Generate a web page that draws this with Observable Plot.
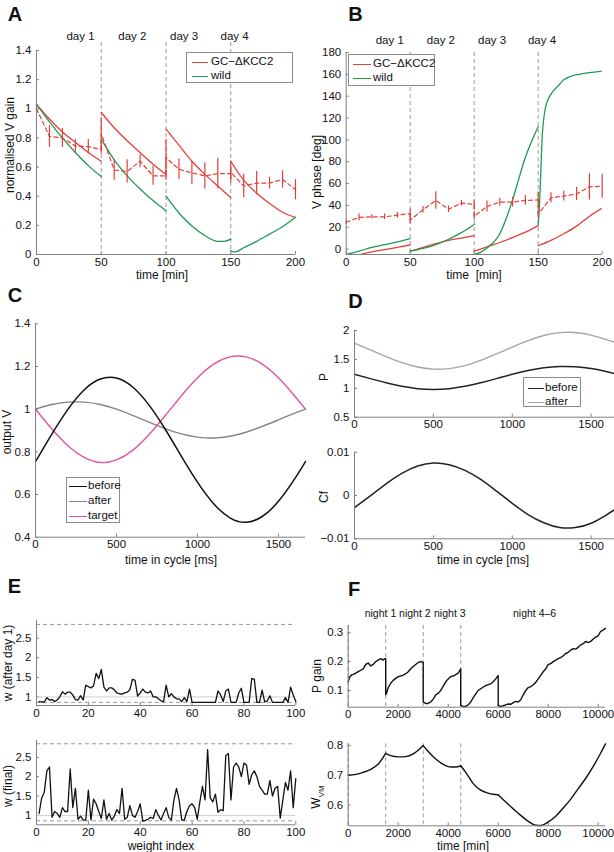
<!DOCTYPE html>
<html>
<head>
<meta charset="utf-8">
<script src="https://cdn.jsdelivr.net/npm/d3@7"></script>
<script src="https://cdn.jsdelivr.net/npm/@observablehq/plot@0.6"></script>
<style>
  html, body { margin: 0; padding: 0; background: #fff; }
  #fig { position: relative; width: 614px; height: 852px; overflow: hidden; background: #fff;
         font-family: "Liberation Sans", Arial, Helvetica, sans-serif; color: #111; }
  #fig svg { position: absolute; overflow: visible; }
  .t { position: absolute; font-size: 12px; white-space: pre; line-height: 1; transform: translate(-50%, -50%); }
  .r { position: absolute; font-size: 12px; white-space: pre; line-height: 1; transform: translate(-50%, -50%) rotate(-90deg); }
  .letter { position: absolute; font-size: 20px; font-weight: bold; line-height: 1; transform: translate(-50%, -50%); }
  .leg { position: absolute; border: 1px solid #8c8c8c; background: #fff; box-sizing: border-box; }
  .leg .sw { position: absolute; height: 0; }
  .leg .lt { position: absolute; font-size: 11.5px; line-height: 1; white-space: pre; transform: translateY(-50%); }
</style>
</head>
<body>
<div id="fig"></div>
<script>
// ---------------- colours / style ----------------
const FONT = '"Liberation Sans", Arial, Helvetica, sans-serif';
const RED = "#e2403a", GREEN = "#1f9a52", PINK = "#e0569e", AX = "#808080", GRID = "#9a9a9a";

// ---------------- Panel A : normalised V gain ----------------
const dayLines = [50, 100, 150];
const dayLabels = ["day 1", "day 2", "day 3", "day 4"];
const dayLabelT = [34, 74, 114, 153];
const timeTicks = [0, 50, 100, 150, 200];
const gainTicks = [0, 0.2, 0.4, 0.6, 0.8, 1, 1.2, 1.4];
const aRedT = [[0,10,20,30,40,50],[50,60,70,80,90,100],[100,110,120,130,140,150],[150,160,170,180,190,200]];
const aRedV = [[1.03,0.93,0.84,0.77,0.70,0.64],[0.975,0.87,0.78,0.70,0.62,0.55],[0.86,0.75,0.64,0.55,0.47,0.39],[0.64,0.51,0.42,0.35,0.29,0.255]];
const aGreenT = [[0,10,20,30,40,50],[50,60,70,80,90,100],[100,110,120,130,140,145,150],[150,152,155,160,170,180,190,200]];
const aGreenV = [[1.03,0.91,0.80,0.70,0.61,0.535],[0.79,0.65,0.54,0.45,0.37,0.30],[0.40,0.285,0.195,0.13,0.09,0.09,0.105],[0.027,0.018,0.022,0.046,0.09,0.14,0.19,0.255]];
const expT = [0,10,20,30,40,50,50,60,70,80,90,100,100,110,120,130,140,150,150,160,170,180,190,200];
const aExpM = [1.0,0.81,0.80,0.745,0.74,0.72,0.83,0.58,0.57,0.64,0.54,0.54,0.665,0.585,0.56,0.54,0.555,0.555,0.565,0.47,0.49,0.49,0.515,0.445];
const aExpE = [0.03,0.075,0.065,0.045,0.05,0.03,0.11,0.07,0.08,0.045,0.065,0.03,0.125,0.07,0.08,0.09,0.105,0.04,0.075,0.08,0.08,0.04,0.06,0.07];

// ---------------- Panel B : V phase ----------------
const phaseTicks = [0, 20, 40, 60, 80, 100, 120, 140, 160, 180];
const bRedT = [[0,10,20,30,40,50],[50,60,70,80,90,100],[100,110,120,130,140,150],[150,160,170,180,190,200]];
const bRedV = [[-12,-5.5,-2.5,-0.5,1.5,3.7],[-2,1.5,5,8,10,12.2],[-2,2,6,10.5,15.5,21.5],[3,8,14,21,30,37.5]];
const bGreenT = [[0,10,20,30,40,50],[50,60,70,80,90,100],[100,105,110,115,120,125,130,135,140,145,150],[150,151,152,153,155,157,159,162,166,170,175,182,190,200]];
const bGreenV = [[-5,-2,1.5,4,6.5,9.5],[-2,0.5,4,9,15,22.5],[-5,-3,1,6,14,28,45,65,84,99,112],[22,40,70,100,125,135,140,145,150,155,158,160,161.5,163]];
const bExpM = [24.5,29,29.5,29.5,31,32.5,26.5,36,44.5,36.5,42,41,30,39,43,43,44.5,45,32,47,48.5,50.5,57,57.5];
const bExpE = [2,3,2,2.5,2.5,4,3.5,3,8,3,2.5,4,3.5,5,3.5,4.5,4.5,7,3.5,4.5,4.5,6,12,11];

// ---------------- Panel C / D : one cycle ----------------
const cycleT = [0,100,200,300,400,500,600,700,800,900,1000,1100,1200,1300,1400,1500,1600,1667];
const cycleTicks = [0, 500, 1000, 1500];
const outTicks = [0.4, 0.6, 0.8, 1, 1.2, 1.4];
const outBefore = [0.754,0.882,0.999,1.090,1.141,1.146,1.104,1.020,0.907,0.780,0.658,0.557,0.491,0.470,0.497,0.568,0.673,0.754];
const outAfter  = [1.000,1.022,1.033,1.033,1.022,1.000,0.971,0.939,0.909,0.884,0.869,0.865,0.873,0.892,0.919,0.950,0.981,1.000];
const outTarget = [1.000,0.908,0.829,0.774,0.750,0.762,0.807,0.880,0.969,1.062,1.147,1.211,1.245,1.245,1.211,1.147,1.062,1.000];
const pTicks = [0.5, 1, 1.5, 2];
const pBefore = [1.242,1.167,1.095,1.034,0.994,0.980,0.994,1.034,1.095,1.167,1.242,1.307,1.355,1.378,1.373,1.342,1.287,1.242];
const pAfter  = [1.783,1.666,1.547,1.443,1.368,1.332,1.341,1.393,1.482,1.594,1.714,1.825,1.913,1.963,1.966,1.921,1.837,1.783];
const cfTicks = [-0.01, 0, 0.01];
const cfValues = [-0.0028,-0.0001,0.0027,0.0051,0.0068,0.0075,0.0071,0.0058,0.0037,0.0010,-0.0018,-0.0044,-0.0063,-0.0074,-0.0074,-0.0064,-0.0044,-0.0028];

// ---------------- Panel E : weights ----------------
const weightTicks = [0, 20, 40, 60, 80, 100];
const wTicks = [1, 1.5, 2, 2.5];
const wBounds = [0.86, 2.85];
const wRef = [1];
const wAfterDay1 = [0.88,0.87,0.87,0.98,0.92,0.93,0.88,0.92,1.0,1.13,
  1.07,1.12,1.12,1.05,0.93,0.92,1.03,0.92,1.3,1.26,
  1.23,1.28,1.6,1.47,1.7,1.25,1.15,1.23,1.23,1.18,
  1.1,1.08,1.07,1.1,1.12,1.18,1.45,1.42,1.02,1.1,
  1.2,1.12,1.1,1.15,1.0,1.0,0.95,0.9,0.88,1.3,
  1.0,1.08,1.0,0.95,0.95,0.88,0.98,0.88,1.2,0.86,
  0.86,0.86,0.86,0.86,0.86,0.86,0.86,0.86,0.86,1.15,
  1.05,0.88,1.15,1.2,0.86,0.86,0.86,1.1,1.22,0.86,
  0.86,0.86,1.47,1.45,0.86,0.86,1.17,0.87,0.9,1.03,
  0.86,0.86,0.86,0.86,0.86,0.98,0.86,1.25,1.05,0.88];
const wFinal = [1.05,1.45,1.6,2.15,2.25,0.95,1.1,1.05,0.95,1.2,
  1.1,1.1,2.2,1.2,1.7,0.9,0.98,0.88,0.88,1.65,
  0.88,1.42,1.3,1.1,0.92,1.4,0.9,1.05,0.88,0.98,
  1.15,1.05,1.7,0.9,0.95,1.25,1.0,0.95,1.1,1.3,
  0.85,0.87,0.9,0.95,0.92,1.15,1.0,0.88,1.05,1.2,
  0.95,0.88,1.4,1.7,1.4,0.88,0.88,1.1,1.25,1.3,
  1.2,0.9,1.35,1.75,1.4,2.7,1.45,1.35,1.55,1.08,
  1.15,1.12,2.55,2.6,1.4,2.25,2.35,2.25,2.0,2.35,
  2.3,1.8,2.05,2.15,2.0,1.75,1.65,1.55,1.55,1.9,
  1.5,1.7,1.75,0.93,1.4,1.85,1.65,2.15,1.2,1.95];

// ---------------- Panel F : long-term ----------------
const nightLines = [0, 1500, 3000, 4500];
const nightLabels = ["night 1", "night 2", "night 3", "night 4–6"];
const nightLabelT = [1290, 2666, 4063, 7455];
const longTicks = [0, 2000, 4000, 6000, 8000, 10000];
const pGainTicks = [0.1, 0.2, 0.3];
const pGainT = [0,50,100,150,200,300,400,500,600,700,800,900,1000,1100,1200,1300,1400,1450,1500,
  1500,1550,1600,1700,1800,1900,2000,2100,2200,2300,2400,2500,2600,2700,2800,2900,3000,
  3000,3100,3200,3300,3400,3500,3600,3700,3800,3900,4000,4100,4200,4300,4400,4500,
  4500,4600,4700,4800,4900,5000,5100,5200,5300,5400,5500,5600,5700,5800,5900,6000,
  6000,6100,6200,6300,6400,6500,6600,6700,6800,6900,7000,7100,7200,7300,7400,7500,7600,7700,7800,7900,
  8000,8100,8200,8300,8400,8500,8600,8700,8800,8900,9000,9100,9200,9300,9400,9500,9600,9700,9800,9900,
  10000,10100,10200,10290];
const pGainV = [0.13,0.145,0.15,0.155,0.155,0.16,0.165,0.17,0.175,0.19,0.195,0.185,0.19,0.2,0.205,0.21,0.205,0.21,0.21,
  0.085,0.095,0.11,0.125,0.135,0.142,0.148,0.15,0.153,0.158,0.165,0.175,0.183,0.19,0.197,0.2,0.197,
  0.06,0.055,0.055,0.06,0.07,0.085,0.09,0.1,0.115,0.13,0.14,0.148,0.15,0.155,0.16,0.175,
  0.048,0.045,0.045,0.05,0.06,0.075,0.088,0.1,0.106,0.112,0.117,0.12,0.123,0.13,0.14,0.152,
  0.048,0.044,0.047,0.05,0.053,0.052,0.058,0.062,0.06,0.068,0.085,0.1,0.11,0.113,0.12,0.128,0.14,0.152,0.165,0.175,
  0.19,0.193,0.2,0.205,0.21,0.214,0.22,0.228,0.232,0.24,0.245,0.243,0.25,0.258,0.262,0.27,0.266,0.27,0.278,0.285,
  0.29,0.305,0.31,0.315];
const wvmTicks = [0.6, 0.7, 0.8];
const wvmT = [[0,300,600,900,1200,1500],[1500,1700,2000,2300,2600,2800,3000],[3000,3200,3500,3800,4100,4300,4500],
  [4500,4700,5000,5300,5600,5800,6000],[6000,6300,6600,6900,7200,7500,7700,8000,8300,8600,8900,9200,9500,9800,10100,10290]];
const wvmV = [[0.70,0.703,0.71,0.72,0.738,0.774],[0.774,0.766,0.762,0.763,0.772,0.784,0.80],[0.80,0.78,0.755,0.737,0.728,0.728,0.732],
  [0.732,0.71,0.672,0.65,0.64,0.636,0.634],[0.634,0.61,0.587,0.565,0.545,0.532,0.531,0.543,0.562,0.59,0.62,0.655,0.69,0.73,0.775,0.806]];

// ---------------- helpers ----------------
const fig = document.getElementById("fig");
const fmt = d => (d < 0 ? "−" : "") + String(Math.abs(d));
const segs = (T, V) => T.flatMap((ts, s) => ts.map((t, i) => ({t, v: V[s][i], s})));
const pts = (T, M, E) => T.map((t, i) => ({t, m: M[i], lo: M[i] - E[i], hi: M[i] + E[i]}));
const series = (T, V) => T.map((t, i) => ({t, v: V[i]}));

function panel(o) {
  const pw = o.width - o.ml - o.mr, ph = o.height - o.mt - o.mb;
  const svg = Plot.plot({
    width: o.width, height: o.height,
    marginTop: o.mt, marginRight: o.mr, marginBottom: o.mb, marginLeft: o.ml,
    x: {domain: o.xd, ticks: o.xt, tickFormat: fmt, tickSize: 0, tickPadding: 3, label: null},
    y: {domain: o.yd, ticks: o.yt, tickFormat: fmt, tickSize: 0, tickPadding: 5, label: null},
    style: {fontFamily: FONT, fontSize: "11.5px", color: "#111", background: "transparent", overflow: "visible"},
    marks: [
      Plot.ruleY(o.yt, {stroke: AX, insetRight: pw - 3}),
      Plot.ruleX(o.xt, {stroke: AX, insetTop: ph - 3}),
      ...o.marks,
      Plot.ruleX([o.xd[0]], {stroke: AX}),
      Plot.ruleY([o.yd[0]], {stroke: AX})
    ]
  });
  svg.style.left = o.left + "px";
  svg.style.top = o.top + "px";
  fig.appendChild(svg);
}
function txt(s, cx, cy, cls = "t", html = false) {
  const d = document.createElement("div");
  d.className = cls;
  if (html) d.innerHTML = s; else d.textContent = s;
  d.style.left = cx + "px"; d.style.top = cy + "px";
  fig.appendChild(d);
}
function legend(x, y, w, h, items, rows, sx0, sx1, tx) {
  const b = document.createElement("div");
  b.className = "leg";
  Object.assign(b.style, {left: x + "px", top: y + "px", width: w + "px", height: h + "px"});
  items.forEach((it, i) => {
    const s = document.createElement("div");
    s.className = "sw";
    Object.assign(s.style, {left: sx0 + "px", width: (sx1 - sx0) + "px", top: rows[i] + "px", borderTop: "1.4px solid " + it.color});
    b.appendChild(s);
    const t = document.createElement("div");
    t.className = "lt";
    t.textContent = it.label;
    Object.assign(t.style, {left: tx + "px", top: rows[i] + "px"});
    b.appendChild(t);
  });
  fig.appendChild(b);
}
const vDash = (vals, inset = 0) => Plot.ruleX(vals, {stroke: GRID, strokeDasharray: "4,3", insetTop: inset});

// ---------------- Panel A ----------------
const aExp = pts(expT, aExpM, aExpE);
panel({left: 0, top: 0, width: 307, height: 285, ml: 36, mr: 12, mt: 50, mb: 31,
  xd: [0, 200], yd: [0, 1.4], xt: timeTicks, yt: gainTicks,
  marks: [
    vDash(dayLines, -8),
    Plot.text(dayLabels, {x: (d, i) => dayLabelT[i], text: d => d, frameAnchor: "top", dy: -14, lineAnchor: "middle", fontSize: 11.5}),
    Plot.line(segs(aRedT, aRedV), {x: "t", y: "v", z: "s", stroke: RED, strokeWidth: 1.3, curve: "monotone-x"}),
    Plot.line(segs(aGreenT, aGreenV), {x: "t", y: "v", z: "s", stroke: GREEN, strokeWidth: 1.3, curve: "monotone-x"}),
    Plot.line(aExp, {x: "t", y: "m", stroke: RED, strokeWidth: 1.2, strokeDasharray: "4,3"}),
    Plot.ruleX(aExp, {x: "t", y1: "lo", y2: "hi", stroke: RED, strokeWidth: 1.2})
  ]});

// ---------------- Panel B ----------------
const bExp = pts(expT, bExpM, bExpE);
panel({left: 307, top: 0, width: 307, height: 285, ml: 38.7, mr: 12.3, mt: 52, mb: 31,
  xd: [0, 200], yd: [-5, 180], xt: timeTicks, yt: phaseTicks,
  marks: [
    vDash(dayLines, 0),
    Plot.text(dayLabels, {x: (d, i) => dayLabelT[i], text: d => d, frameAnchor: "top", dy: -12, lineAnchor: "middle", fontSize: 11.5}),
    Plot.line(segs(bRedT, bRedV), {x: "t", y: "v", z: "s", stroke: RED, strokeWidth: 1.3, curve: "monotone-x", clip: true}),
    Plot.line(segs(bGreenT, bGreenV), {x: "t", y: "v", z: "s", stroke: GREEN, strokeWidth: 1.3, curve: "monotone-x", clip: true}),
    Plot.line(bExp, {x: "t", y: "m", stroke: RED, strokeWidth: 1.2, strokeDasharray: "4,3"}),
    Plot.ruleX(bExp, {x: "t", y1: "lo", y2: "hi", stroke: RED, strokeWidth: 1.2})
  ]});

// ---------------- Panel C ----------------
panel({left: 0, top: 285, width: 307, height: 285, ml: 35, mr: 2, mt: 38.3, mb: 33.3,
  xd: [0, 1667], yd: [0.4, 1.4], xt: cycleTicks, yt: outTicks,
  marks: [
    Plot.line(series(cycleT, outAfter), {x: "t", y: "v", stroke: "#858585", strokeWidth: 1.4, curve: "natural"}),
    Plot.line(series(cycleT, outTarget), {x: "t", y: "v", stroke: PINK, strokeWidth: 1.4, curve: "natural"}),
    Plot.line(series(cycleT, outBefore), {x: "t", y: "v", stroke: "#111", strokeWidth: 1.5, curve: "natural"})
  ]});

// ---------------- Panel D ----------------
panel({left: 307, top: 285, width: 310, height: 145, ml: 47, mr: 0, mt: 45, mb: 13.3,
  xd: [0, 1667], yd: [0.5, 2], xt: cycleTicks, yt: pTicks,
  marks: [
    Plot.line(series(cycleT, pAfter), {x: "t", y: "v", stroke: "#a6a6a6", strokeWidth: 1.4, curve: "natural"}),
    Plot.line(series(cycleT, pBefore), {x: "t", y: "v", stroke: "#222", strokeWidth: 1.5, curve: "natural"})
  ]});
panel({left: 307, top: 430, width: 310, height: 140, ml: 47, mr: 0, mt: 21.7, mb: 31.7,
  xd: [0, 1667], yd: [-0.01, 0.01], xt: cycleTicks, yt: cfTicks,
  marks: [
    Plot.line(series(cycleT, cfValues), {x: "t", y: "v", stroke: "#222", strokeWidth: 1.5, curve: "natural"})
  ]});

// ---------------- Panel E ----------------
const wIdx = wAfterDay1.map((_, i) => i + 1);
panel({left: 0, top: 570, width: 307, height: 155, ml: 36, mr: 11.7, mt: 50, mb: 20,
  xd: [0, 100], yd: [0.78, 2.95], xt: weightTicks, yt: wTicks,
  marks: [
    Plot.ruleY(wRef, {stroke: "#d0d0d0"}),
    Plot.ruleY(wBounds, {stroke: GRID, strokeDasharray: "4,3"}),
    Plot.line(series(wIdx, wAfterDay1), {x: "t", y: "v", stroke: "#111", strokeWidth: 1.3})
  ]});
panel({left: 0, top: 725, width: 307, height: 127, ml: 36, mr: 11.7, mt: 15, mb: 27.7,
  xd: [0, 100], yd: [0.757, 2.935], xt: weightTicks, yt: wTicks,
  marks: [
    Plot.ruleY(wRef, {stroke: "#d0d0d0"}),
    Plot.ruleY(wBounds, {stroke: GRID, strokeDasharray: "4,3"}),
    Plot.line(series(wIdx, wFinal), {x: "t", y: "v", stroke: "#111", strokeWidth: 1.3})
  ]});

// ---------------- Panel F ----------------
panel({left: 307, top: 570, width: 307, height: 155, ml: 40.7, mr: 9, mt: 55, mb: 18.3,
  xd: [0, 10290], yd: [0.042, 0.325], xt: longTicks, yt: pGainTicks,
  marks: [
    vDash(nightLines, 0),
    Plot.text(nightLabels, {x: (d, i) => nightLabelT[i], text: d => d, frameAnchor: "top", dy: -12, lineAnchor: "middle", fontSize: 10.5}),
    Plot.line(series(pGainT, pGainV), {x: "t", y: "v", stroke: "#111", strokeWidth: 1.4})
  ]});
panel({left: 307, top: 725, width: 307, height: 127, ml: 40.7, mr: 9, mt: 18.3, mb: 26.7,
  xd: [0, 10290], yd: [0.53, 0.806], xt: longTicks, yt: wvmTicks,
  marks: [
    vDash(nightLines, 0),
    Plot.line(segs(wvmT, wvmV), {x: "t", y: "v", z: "s", stroke: "#111", strokeWidth: 1.4, curve: "monotone-x"})
  ]});

// ---------------- text overlays ----------------
txt("A", 15, 14, "letter"); txt("B", 355.5, 14, "letter");
txt("C", 15, 295, "letter"); txt("D", 355.5, 300.5, "letter");
txt("E", 14.5, 585.5, "letter"); txt("F", 354, 588.5, "letter");

txt("normalised V gain", 10, 145, "r");
txt("time [min]", 162, 275);
txt("V phase [deg]", 316.7, 172, "r");
txt("time  [min]", 474, 275);
txt("output V", 7, 432, "r");
txt("time in cycle [ms]", 171, 560);
txt("P", 324, 377, "r");
txt("Cf", 324, 497, "r");
txt("time in cycle [ms]", 483, 560);
txt("w (after day 1)", 8, 663, "r");
txt("w (final)", 8, 786, "r");
txt("weight index", 161, 846);
txt("P gain", 317, 676, "r");
txt("W<sub style='font-size:8px'>VM</sub>", 318, 797, "r", true);
txt("time [min]", 463, 846);

legend(186, 52, 107, 31, [{label: "GC−ΔKCC2", color: RED}, {label: "wild", color: GREEN}], [9, 23], 5, 21, 24);
legend(348, 54, 87, 32, [{label: "GC−ΔKCC2", color: RED}, {label: "wild", color: GREEN}], [9, 23], 4, 22, 24);
legend(66, 477, 54, 46, [{label: "before", color: "#111"}, {label: "after", color: "#858585"}, {label: "target", color: PINK}], [8, 23, 38], 2, 20, 21);
legend(523, 377, 58, 30, [{label: "before", color: "#222"}, {label: "after", color: "#a6a6a6"}], [10, 23.7], 4, 20, 21);
</script>
</body>
</html>
